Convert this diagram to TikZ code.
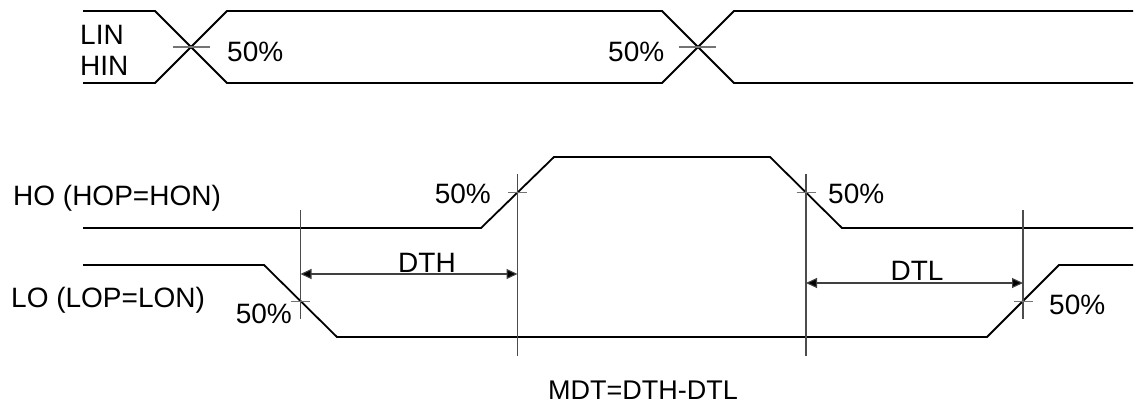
\documentclass[tikz,border=0pt]{standalone}
\usepackage{fontspec}
\setmainfont{Liberation Sans}
\usetikzlibrary{arrows.meta}
\begin{document}
\begin{tikzpicture}[x=1pt,y=-1pt,
  wave/.style={line width=1.8pt, black, line join=miter},
  guide/.style={line width=1.1pt, black!70},
  tickmark/.style={line width=1.1pt, black!55},
  dimline/.style={line width=1.1pt, black!75, {Triangle[length=11pt,width=10pt,fill=black]}-{Triangle[length=11pt,width=10pt,fill=black]}},
  lbl/.style={inner sep=0pt, font=\fontsize{28}{30}\selectfont},
  mlbl/.style={inner sep=0pt, font=\fontsize{27}{30}\selectfont}]
\useasboundingbox (0,0) rectangle (1137,412);

% input bus LIN/HIN
\draw[wave] (83,11) -- (155,11) -- (227,83) -- (662,83) -- (734,11) -- (1133,11);
\draw[wave] (83,83) -- (155,83) -- (227,11) -- (662,11) -- (734,83) -- (1133,83);
\coordinate (c1) at (191,47);
\coordinate (c2) at (698,47);
\draw[tickmark] ([xshift=-18pt]c1) -- ([xshift=19pt]c1);
\draw[tickmark] ([xshift=-19pt]c2) -- ([xshift=18pt]c2);
\node[lbl, anchor=base west] (lin) at (80,45) {LIN};
\node[lbl, anchor=base west] (hin) at (80,75) {HIN};
\node[lbl, anchor=base west] (p1) at (227,61) {50\%};
\node[lbl, anchor=base west] (p2) at (608,61) {50\%};

% HO and LO waveforms
\draw[wave] (83,228) -- (481,228) -- (554,157) -- (770,157) -- (842,228) -- (1133,228);
\draw[wave] (83,265) -- (264,265) -- (337,337) -- (987,337) -- (1059,265) -- (1133,265);
\node[lbl, anchor=base west] (ho) at (13,205) {HO (HOP=HON)};
\node[lbl, anchor=base west] (lo) at (11,307) {LO (LOP=LON)};

% 50% crossing points
\coordinate (lf) at (300.5,301.5);
\coordinate (hr) at (517.5,192.5);
\coordinate (hf) at (806,192.5);
\coordinate (lr) at (1023,301.5);

% guide lines
\coordinate (lfT) at (300.5,210); \coordinate (lfB) at (300.5,319);
\coordinate (hrT) at (517.5,174); \coordinate (hrB) at (517.5,356);
\coordinate (hfT) at (806,174);   \coordinate (hfB) at (806,356);
\coordinate (lrT) at (1023,210);  \coordinate (lrB) at (1023,319);
\draw[guide] (lfT) -- (lfB);
\draw[guide] (hrT) -- (hrB);
\draw[guide] (hfT) -- (hfB);
\draw[guide] (lrT) -- (lrB);
\foreach \p in {lf,hr,hf,lr}
  \draw[tickmark] ([xshift=-9.5pt]\p) -- ([xshift=9.5pt]\p);

\node[lbl, anchor=base east] (p3) at (292,323) {50\%};
\node[lbl, anchor=base east] (p4) at (491,203) {50\%};
\node[lbl, anchor=base west] (p5) at (828,203) {50\%};
\node[lbl, anchor=base west] (p6) at (1049,314) {50\%};

% dimensions
\coordinate (dthA) at (300.5,274); \coordinate (dthB) at (517.5,274);
\coordinate (dtlA) at (806,283);   \coordinate (dtlB) at (1023,283);
\draw[dimline] (dthA) -- (dthB);
\draw[dimline] (dtlA) -- (dtlB);
\node[lbl, anchor=base] (dth) at (427,272) {DTH};
\node[lbl, anchor=base] (dtl) at (917,280) {DTL};

\node[mlbl, anchor=base] (mdt) at (643,399) {MDT=DTH-DTL};
\end{tikzpicture}
\end{document}
